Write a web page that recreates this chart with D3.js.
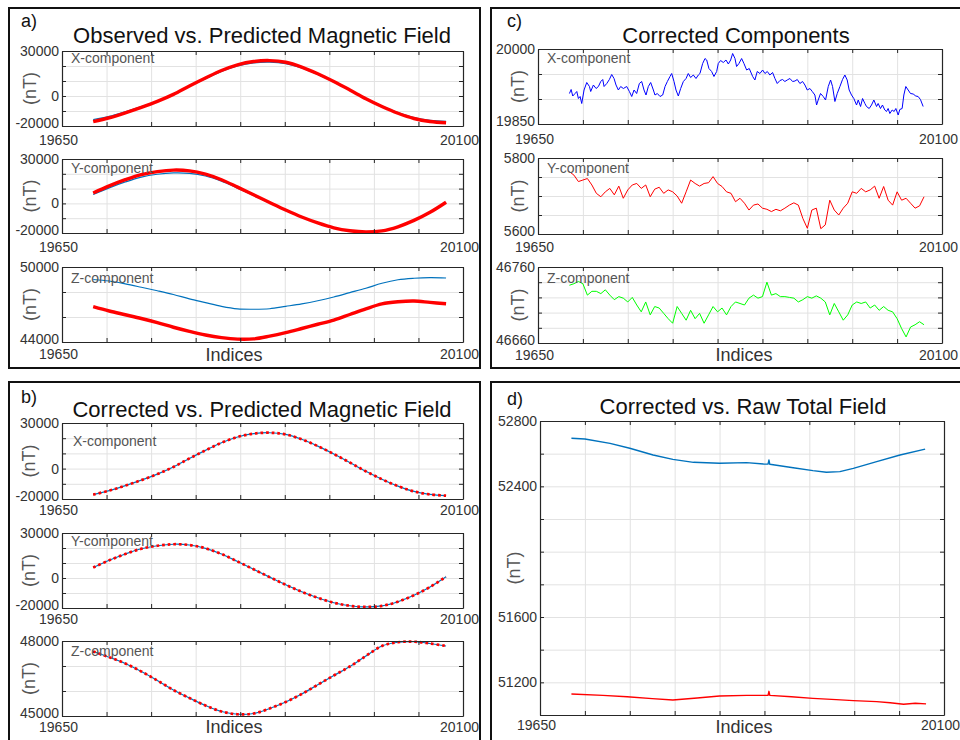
<!DOCTYPE html>
<html><head><meta charset="utf-8">
<title>Magnetic Field Correction</title>
<script src="https://cdn.jsdelivr.net/npm/d3@7"></script>
<style>
body { margin: 0; background: #fff; }
text { font-family: "Liberation Sans", Arial, sans-serif; }
</style>
</head>
<body>
<script>

// sample indices
var idxSmooth = d3.range(19685, 20082, 18);   // 23 samples
var idxNoisy = d3.range(19685, 20081, 5);     // 80 samples
var xTicks = d3.range(19650, 20101, 50);

// a) observed (blue) vs predicted (red)
var predX = [-17100,-14500,-11200,-7600,-3600,1100,6700,12000,17000,20800,23000,23600,22500,19300,14800,9600,4000,-1800,-7000,-11500,-15000,-17000,-17800];
var obsX  = [-15800,-13600,-10500,-7100,-3300,1200,6500,11600,16400,20000,22100,22600,21600,18700,14400,9400,4000,-1600,-6700,-11100,-14400,-16200,-16900];
var predY = [7000,11800,16000,19500,21500,22500,22000,19800,16000,11000,5800,600,-4500,-9200,-13200,-16500,-18500,-19300,-18600,-15800,-11500,-6000,800];
var obsY  = [6000,10500,14500,17800,19700,20600,20300,18500,15000,10300,5300,300,-4700,-9300,-13300,-16600,-18600,-19400,-18700,-15900,-11600,-6100,600];
var obsZ  = [49000,48880,48650,48380,48100,47800,47450,47150,46850,46650,46620,46660,46850,47050,47300,47600,47950,48300,48700,48980,49100,49150,49120];
var predZa = [46830,46480,46180,45880,45550,45180,44850,44560,44350,44230,44250,44470,44750,45080,45420,45750,46200,46650,47050,47220,47280,47170,47060];

// b) corrected vs predicted
var predZb = [47580,47350,47100,46780,46420,46040,45720,45420,45180,45070,45100,45300,45560,45880,46250,46620,46980,47400,47800,47950,47970,47900,47800];

// c) corrected components
var corrXIdx = [19685,19686.9,19688.7,19691.3,19693.2,19695,19696.9,19698.7,19701.3,19704.3,19707.3,19708.7,19711.7,19714.7,19717.3,19719.9,
  19722.1,19723.6,19726.6,19729.5,19732.1,19734.7,19736.9,19739.5,19742.1,19745.1,19748.8,19751.8,19754.4,19757,19759.9,19762.9,
  19765.5,19768.1,19770.3,19772.9,19775.5,19778.5,19780.3,19782.9,19785.9,19788.9,19791.5,19794.1,19797,19798.9,19801.5,19803.7,
  19806.3,19808.9,19811.9,19814.9,19817.4,19820,19823,19826,19828.6,19830.4,19833.4,19836,19837.9,19840.4,19843.4,19846,
  19849,19850.8,19853.4,19856.4,19859.4,19862,19864.6,19866.8,19869.4,19871.2,19873.8,19876.8,19879.4,19882.4,19885.3,19889.1,
  19891.6,19894.2,19897.2,19900.2,19902.8,19905.4,19908.3,19911.3,19913.9,19916.5,19919.5,19922.4,19925,19927.6,19930.6,19933.6,
  19936.2,19938.8,19941.7,19944.7,19947.3,19949.9,19952.9,19955.5,19958.4,19960.3,19962.1,19964.7,19967.7,19970.3,19973.3,19975.9,
  19978.1,19980.7,19983.3,19986.3,19989.2,19991.8,19994.4,19996.6,19999.2,20001.8,20004.8,20006.7,20009.3,20011.5,20014.1,20015.9,
  20018.9,20021.5,20024.1,20027.1,20028.9,20031.5,20033.7,20036.3,20038.2,20040,20041.9,20044.5,20046.7,20048.6,20051.2,20053,
  20055.6,20057.5,20059.7,20062.3,20064.9,20067.9,20070.8,20073.4,20076,20079];
var corrX = [19911,19919,19906,19911,19915,19901,19905,19891,19918,19933,19925,19915,19928,19921,19925,19935,
  19939,19925,19931,19939,19949,19941,19928,19918,19925,19921,19925,19915,19905,19918,19911,19931,
  19935,19918,19908,19925,19933,19918,19908,19911,19905,19908,19925,19935,19945,19951,19935,19918,
  19906,19921,19935,19941,19951,19943,19948,19941,19948,19951,19971,19981,19978,19961,19955,19945,
  19955,19971,19977,19973,19978,19970,19978,19991,19981,19965,19971,19981,19971,19958,19961,19945,
  19938,19955,19951,19958,19951,19955,19948,19953,19941,19931,19937,19939,19935,19938,19941,19935,
  19936,19939,19931,19935,19928,19918,19921,19915,19908,19888,19898,19911,19905,19898,19925,19938,
  19925,19895,19911,19925,19939,19948,19938,19918,19908,19901,19888,19898,19885,19901,19891,19885,
  19881,19888,19898,19885,19891,19881,19888,19878,19875,19881,19871,19878,19875,19881,19868,19879,
  19881,19908,19925,19918,19911,19910,19906,19905,19899,19885];
var corrY = [5764,5755,5738,5742,5746,5729,5707,5698,5711,5720,
  5703,5726,5694,5716,5729,5733,5720,5729,5698,5718,
  5723,5707,5716,5711,5700,5681,5711,5742,5733,5726,
  5733,5735,5751,5733,5725,5711,5707,5685,5694,5681,
  5663,5676,5679,5668,5665,5659,5665,5661,5668,5676,
  5682,5676,5641,5615,5663,5668,5614,5624,5689,5663,
  5650,5668,5681,5711,5707,5720,5711,5716,5726,5694,
  5725,5689,5676,5711,5689,5694,5681,5668,5674,5698];
var corrZ = [46736,46738,46741,46738,46723,46728,46728,46725,46730,46723,
  46717,46721,46719,46714,46720,46710,46701,46714,46697,46708,
  46706,46699,46692,46686,46708,46699,46690,46703,46692,46699,
  46686,46697,46708,46701,46706,46697,46708,46714,46712,46710,
  46719,46723,46719,46721,46740,46723,46725,46721,46721,46720,
  46719,46714,46717,46721,46719,46722,46719,46714,46697,46712,
  46701,46690,46697,46710,46714,46712,46714,46706,46710,46703,
  46708,46703,46701,46692,46679,46668,46681,46684,46688,46684];

// d) total field, raw (blue) and corrected (red)
var rawIdx = [19685,19700,19728,19750,19776,19798,19821,19850,19880,19899,19904,19905,19906,19932,19954,19969,19984,19999,20025,20051,20079];
var rawF   = [52694,52690,52663,52633,52592,52565,52547,52541,52545,52537,52536,52561,52535,52514,52496,52486,52490,52510,52551,52592,52628];
var corIdx = [19685,19720,19747,19775,19798,19825,19850,19880,19904,19905,19906,19930,19954,19980,19999,20025,20040,20055,20068,20080];
var corF   = [51129,51120,51112,51100,51092,51104,51116,51120,51120,51145,51120,51112,51102,51094,51088,51082,51075,51066,51072,51068];

var W = 960, H = 740;
var svg = d3.select("body").append("svg").attr("width", W).attr("height", H);

// panel frames
var frames = [[9, 8, 471, 360], [491, 8, 480, 360], [9, 382, 471, 370], [491, 382, 480, 370]];
svg.selectAll("rect.frame").data(frames).enter().append("rect")
  .attr("class", "frame")
  .attr("x", function(d) { return d[0]; }).attr("y", function(d) { return d[1]; })
  .attr("width", function(d) { return d[2]; }).attr("height", function(d) { return d[3]; })
  .attr("fill", "none").attr("stroke", "#111").attr("stroke-width", 2);

function txt(x, y, s, size, fill, anchor, rot) {
  var t = svg.append("text").attr("x", x).attr("y", y).text(s)
    .attr("font-size", size).attr("fill", fill).attr("text-anchor", anchor || "start");
  if (rot) t.attr("transform", "rotate(-90," + x + "," + y + ")");
  return t;
}

function subplot(o) {
  var x = d3.scaleLinear().domain([19650, 20100]).range([o.x0, o.x1]);
  var y = d3.scaleLinear().domain(o.yDomain).range([o.y1, o.y0]);
  var yTicks = d3.range(o.yDomain[0], o.yDomain[1] + o.yStep / 2, o.yStep);
  var g = svg.append("g");

  // grid
  g.append("g").attr("transform", "translate(0," + o.y1 + ")")
    .call(d3.axisBottom(x).tickValues(xTicks).tickSize(-(o.y1 - o.y0)).tickFormat(""))
    .call(function(s) { s.select(".domain").remove(); })
    .selectAll("line").attr("stroke", "#e2e2e2");
  g.append("g").attr("transform", "translate(" + o.x0 + ",0)")
    .call(d3.axisLeft(y).tickValues(yTicks).tickSize(-(o.x1 - o.x0)).tickFormat(""))
    .call(function(s) { s.select(".domain").remove(); })
    .selectAll("line").attr("stroke", "#e2e2e2");

  // data
  o.series.forEach(function(s) {
    var line = d3.line()
      .x(function(d, i) { return x(s.idx[i]); })
      .y(function(d) { return y(d); })
      .curve(s.smooth ? d3.curveCatmullRom : d3.curveLinear);
    var p = g.append("path").datum(s.vals).attr("d", line)
      .attr("fill", "none").attr("stroke", s.color).attr("stroke-width", s.width)
      .attr("stroke-linejoin", "round");
    if (s.dash) p.attr("stroke-dasharray", s.dash);
  });

  // axes, ticks inside on all four sides
  var lab = function(v) { return o.yLabels.indexOf(v) >= 0 ? String(v) : ""; };
  var xl = function(v) { return (v === 19650 || v === 20100) ? String(v) : ""; };
  var left = g.append("g").attr("transform", "translate(" + o.x0 + ",0)")
    .call(d3.axisLeft(y).tickValues(yTicks).tickSize(-4).tickSizeOuter(0).tickPadding(3).tickFormat(lab));
  var right = g.append("g").attr("transform", "translate(" + o.x1 + ",0)")
    .call(d3.axisRight(y).tickValues(yTicks).tickSize(-4).tickSizeOuter(0).tickFormat(""));
  var bottom = g.append("g").attr("transform", "translate(0," + o.y1 + ")")
    .call(d3.axisBottom(x).tickValues(xTicks).tickSize(-4).tickSizeOuter(0).tickPadding(o.xPad || 8).tickFormat(xl));
  var top = g.append("g").attr("transform", "translate(0," + o.y0 + ")")
    .call(d3.axisTop(x).tickValues(xTicks).tickSize(-4).tickSizeOuter(0).tickFormat(""));
  [left, right, bottom, top].forEach(function(a) {
    a.select(".domain").attr("stroke", "#262626").attr("stroke-width", 1.2);
    a.selectAll(".tick line").attr("stroke", "#262626");
    a.selectAll("text").attr("font-size", 14).attr("fill", "#333")
      .attr("font-family", "Liberation Sans, Arial, sans-serif");
  });
  bottom.selectAll("text").attr("dx", -4);
  // lowest y label sits a little above its tick, as in the original
  left.selectAll(".tick").filter(function(v) { return v === o.yDomain[0]; })
    .select("text").attr("dy", "0.12em");

  if (o.name) txt(o.nameX, o.nameY, o.name, 14, "#555");
  txt(o.nTx, (o.y0 + o.y1) / 2, "(nT)", 18, "#555", "middle", true);
}

// ---- panel a
txt(21, 27, "a)", 18, "#111");
txt(262, 43, "Observed vs. Predicted Magnetic Field", 22, "#111", "middle");
subplot({x0: 62, x1: 463, y0: 51, y1: 126, yDomain: [-20000, 30000], yStep: 10000, yLabels: [30000, 0, -20000],
  name: "X-component", nameX: 71, nameY: 63, nTx: 36, xPad: 9,
  series: [{idx: idxSmooth, vals: obsX, color: "#0072BD", width: 1.2, smooth: true},
           {idx: idxSmooth, vals: predX, color: "#FF0000", width: 3.4, smooth: true}]});
subplot({x0: 62, x1: 463, y0: 159, y1: 233, yDomain: [-20000, 30000], yStep: 10000, yLabels: [30000, 0, -20000],
  name: "Y-component", nameX: 71, nameY: 173, nTx: 36, xPad: 9,
  series: [{idx: idxSmooth, vals: obsY, color: "#0072BD", width: 1.2, smooth: true},
           {idx: idxSmooth, vals: predY, color: "#FF0000", width: 3.4, smooth: true}]});
subplot({x0: 62, x1: 463, y0: 267, y1: 342, yDomain: [44000, 50000], yStep: 2000, yLabels: [50000, 44000],
  name: "Z-component", nameX: 71, nameY: 283, nTx: 36, xPad: 7,
  series: [{idx: idxSmooth, vals: obsZ, color: "#0072BD", width: 1.2, smooth: true},
           {idx: idxSmooth, vals: predZa, color: "#FF0000", width: 3.4, smooth: true}]});
txt(234, 361, "Indices", 18, "#333", "middle");

// ---- panel b
txt(21, 403, "b)", 18, "#111");
txt(262, 417, "Corrected vs. Predicted Magnetic Field", 22, "#111", "middle");
var dots = "2.7,2.9";
subplot({x0: 62, x1: 463, y0: 423, y1: 499, yDomain: [-20000, 30000], yStep: 10000, yLabels: [30000, 0, -20000],
  name: "X-component", nameX: 73, nameY: 446, nTx: 35, xPad: 6,
  series: [{idx: idxSmooth, vals: predX, color: "#0072BD", width: 1.2, smooth: true},
           {idx: idxSmooth, vals: predX, color: "#FF0000", width: 2.7, smooth: true, dash: dots}]});
subplot({x0: 62, x1: 463, y0: 533, y1: 608, yDomain: [-20000, 30000], yStep: 10000, yLabels: [30000, 0, -20000],
  name: "Y-component", nameX: 71, nameY: 546, nTx: 35, xPad: 6,
  series: [{idx: idxSmooth, vals: predY, color: "#0072BD", width: 1.2, smooth: true},
           {idx: idxSmooth, vals: predY, color: "#FF0000", width: 2.7, smooth: true, dash: dots}]});
subplot({x0: 62, x1: 463, y0: 641, y1: 716, yDomain: [45000, 48000], yStep: 1000, yLabels: [48000, 45000],
  name: "Z-component", nameX: 71, nameY: 656, nTx: 35, xPad: 6,
  series: [{idx: idxSmooth, vals: predZb, color: "#0072BD", width: 1.2, smooth: true},
           {idx: idxSmooth, vals: predZb, color: "#FF0000", width: 2.7, smooth: true, dash: dots}]});
txt(234, 733, "Indices", 18, "#333", "middle");

// ---- panel c
txt(507, 27, "c)", 18, "#111");
txt(736, 43, "Corrected Components", 22, "#111", "middle");
subplot({x0: 538, x1: 942, y0: 49, y1: 124, yDomain: [19850, 20000], yStep: 50, yLabels: [20000, 19850],
  name: "X-component", nameX: 547, nameY: 63, nTx: 524, xPad: 10,
  series: [{idx: corrXIdx, vals: corrX, color: "#0000FF", width: 1}]});
subplot({x0: 538, x1: 942, y0: 158, y1: 234, yDomain: [5600, 5800], yStep: 50, yLabels: [5800, 5600],
  name: "Y-component", nameX: 547, nameY: 173, nTx: 524, xPad: 8,
  series: [{idx: idxNoisy, vals: corrY, color: "#FF0000", width: 1}]});
subplot({x0: 538, x1: 942, y0: 267, y1: 343, yDomain: [46660, 46760], yStep: 20, yLabels: [46760, 46660],
  name: "Z-component", nameX: 547, nameY: 283, nTx: 524, xPad: 7,
  series: [{idx: idxNoisy, vals: corrZ, color: "#00FF00", width: 1}]});
txt(744, 361, "Indices", 18, "#333", "middle");

// ---- panel d
txt(507, 405, "d)", 18, "#111");
txt(743, 414, "Corrected vs. Raw Total Field", 22, "#111", "middle");
subplot({x0: 540, x1: 944, y0: 421, y1: 715, yDomain: [51000, 52800], yStep: 200, yLabels: [52800, 52400, 51600, 51200],
  nTx: 520, xPad: 5,
  series: [{idx: rawIdx, vals: rawF, color: "#0072BD", width: 1.4},
           {idx: corIdx, vals: corF, color: "#FF0000", width: 1.4}]});
txt(744, 733, "Indices", 18, "#333", "middle");

</script>
</body></html>
